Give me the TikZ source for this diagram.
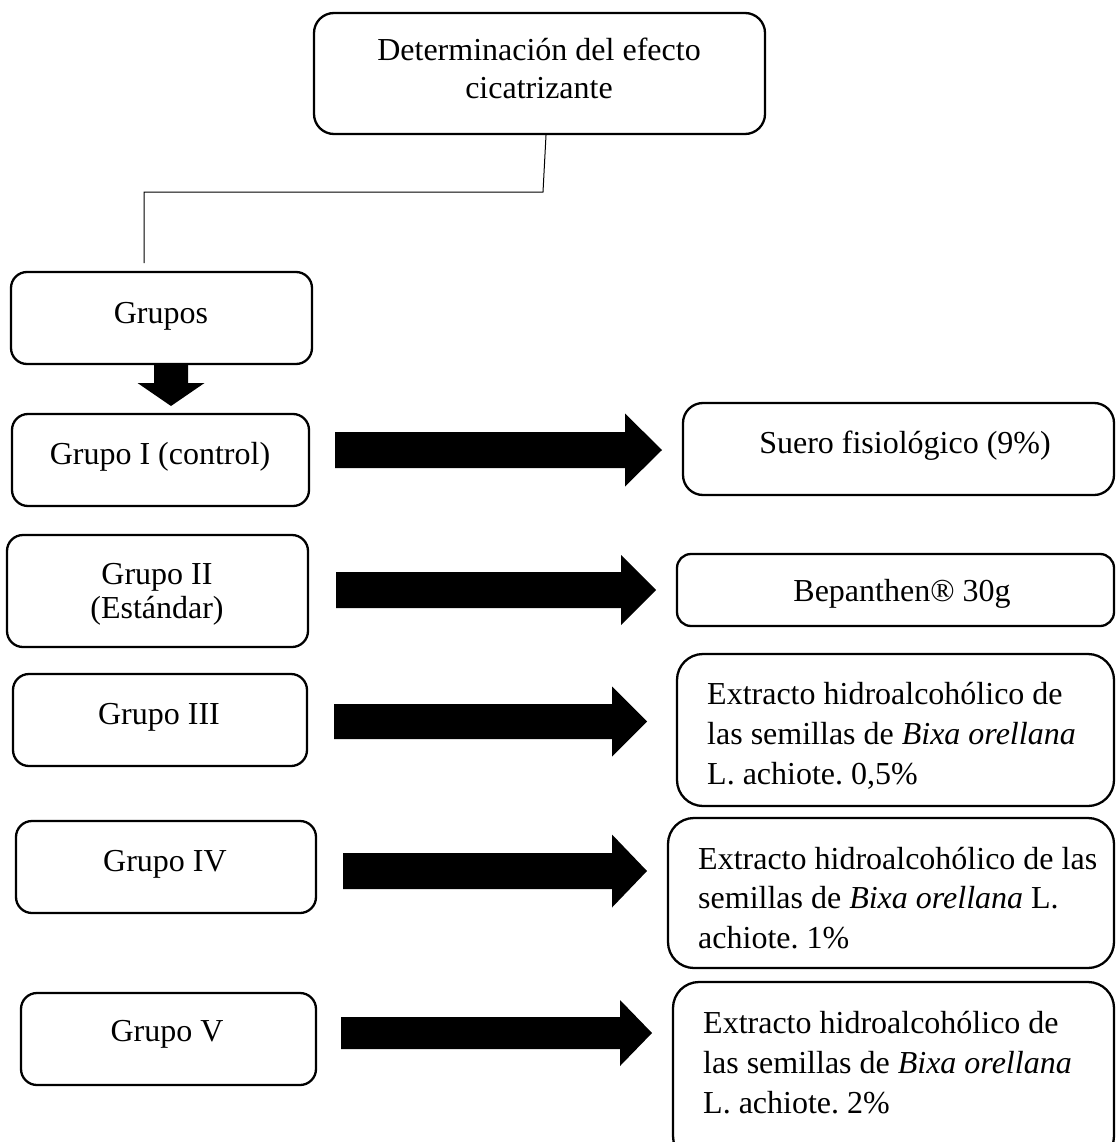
\documentclass[tikz,border=0pt]{standalone}
\usepackage{fontspec}
\setmainfont{Liberation Serif}
\frenchspacing
\newcommand{\harrow}[6]{%
  \fill (#1,#4-#5) -- (#2,#4-#5) -- (#2,#4-#6) -- (#3,#4) -- (#2,#4+#6) -- (#2,#4+#5) -- (#1,#4+#5) -- cycle;}
\begin{document}
\frenchspacing
\begin{tikzpicture}[x=1pt,y=-1pt,
  rbox/.style={draw, line width=2.3pt, rounded corners=#1, inner sep=0pt},
  txt/.style={font=\fontsize{32}{38}\selectfont, inner sep=0pt, anchor=base, align=center},
  ltxt/.style={font=\fontsize{32}{40}\selectfont, inner sep=0pt, anchor=base west, align=left},
  conn/.style={line width=1pt}]
\useasboundingbox (0,0) rectangle (1116,1142);
\clip (0,0) rectangle (1116,1142);
\fill[white] (0,0) rectangle (1116,1142);

% top box
\node[rbox=20pt, minimum width=451pt, minimum height=121pt] (top) at (539.5,73.5) {};
\node[txt] (topt) at (539,99) {Determinación del efecto\\cicatrizante};

% Grupos
\node[rbox=16pt, minimum width=301pt, minimum height=92pt] (grupos) at (161.5,318) {};
\node[txt] (grupost) at (161,323) {Grupos};

% connector
\coordinate (c1) at (543,192);
\coordinate (c2) at (144,192);
\coordinate (c3) at (144,263);
\draw[conn] ([xshift=6.5pt]top.south) -- (c1) -- (c2) -- (c3);

% down arrow
\fill (154,363) -- (188,363) -- (188,383) -- (204.5,383) -- (171,406) -- (137.5,383) -- (154,383) -- cycle;

% left boxes
\node[rbox=16pt, minimum width=297pt, minimum height=92pt] (g1) at (160.5,460) {};
\node[txt] (g1t) at (160,464) {Grupo I (control)};
\node[rbox=16pt, minimum width=301pt, minimum height=112pt] (g2) at (157.5,591) {};
\node[txt, font=\fontsize{32}{34}\selectfont] (g2t) at (157,618) {Grupo II\\(Estándar)};
\node[rbox=16pt, minimum width=294pt, minimum height=92pt] (g3) at (160,720) {};
\node[txt] (g3t) at (159,724) {Grupo III};
\node[rbox=16pt, minimum width=300pt, minimum height=92pt] (g4) at (166,867) {};
\node[txt] (g4t) at (165,871) {Grupo IV};
\node[rbox=16pt, minimum width=295pt, minimum height=92pt] (g5) at (168.5,1039) {};
\node[txt] (g5t) at (167,1041) {Grupo V};

% right boxes
\node[rbox=20pt, minimum width=431pt, minimum height=92pt] (r1) at (898.5,449) {};
\node[txt] (r1t) at (905,453) {Suero fisiológico (9\%)};
\node[rbox=14pt, minimum width=437pt, minimum height=72pt] (r2) at (895.5,590) {};
\node[txt] (r2t) at (902,601) {Bepanthen® 30g};
\node[rbox=26pt, minimum width=437pt, minimum height=152pt] (r3) at (895.5,730) {};
\node[ltxt] (r3t) at (707,784) {Extracto hidroalcohólico de\\las semillas de \textit{Bixa orellana}\\L. achiote. 0,5\%};
\node[rbox=26pt, minimum width=446pt, minimum height=150pt] (r4) at (891,893) {};
\node[ltxt, font=\fontsize{32}{39.5}\selectfont] (r4t) at (698,948) {Extracto hidroalcohólico de las\\semillas de \textit{Bixa orellana} L.\\achiote. 1\%};
\node[rbox=26pt, minimum width=441pt, minimum height=180pt] (r5) at (893.5,1072) {};
\node[ltxt] (r5t) at (703,1113) {Extracto hidroalcohólico de\\las semillas de \textit{Bixa orellana}\\L. achiote. 2\%};

% block arrows
\harrow{335}{625}{662}{450}{18}{36.5}
\harrow{336}{621}{656}{590}{18}{35}
\harrow{334}{612}{647}{721.5}{17.5}{35}
\harrow{343}{612}{647}{871}{18}{36.5}
\harrow{341}{620}{652}{1033}{16}{33}
\end{tikzpicture}
\end{document}
